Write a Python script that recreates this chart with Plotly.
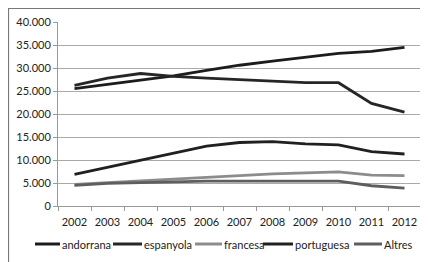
import plotly.graph_objects as go

years = ["2002", "2003", "2004", "2005", "2006", "2007", "2008", "2009", "2010", "2011", "2012"]
andorrana = [25500, 26400, 27300, 28300, 29500, 30600, 31500, 32400, 33200, 33600, 34500]
espanyola = [26200, 27800, 28800, 28200, 27800, 27500, 27200, 26800, 26800, 22300, 20400]
francesa = [4700, 5100, 5500, 5900, 6300, 6700, 7000, 7200, 7400, 6700, 6600]
portuguesa = [6900, 8400, 10000, 11500, 13000, 13800, 14000, 13500, 13300, 11800, 11300]
altres = [4500, 4900, 5100, 5300, 5400, 5400, 5400, 5400, 5400, 4400, 3900]

series = [
    ("andorrana", andorrana, "#1c1c1c"),
    ("espanyola", espanyola, "#262626"),
    ("francesa", francesa, "#8c8c8c"),
    ("portuguesa", portuguesa, "#202020"),
    ("Altres", altres, "#5e5e5e"),
]

# figure geometry (pixels inside the figure)
W, H = 420, 254
ML, MR, MT, MB = 50, 7, 14, 56
PW, PH = W - ML - MR, H - MT - MB


def px(fx):
    return (fx - ML) / PW


def py(fy):
    return (H - MB - fy) / PH


fig = go.Figure()
for name, vals, col in series:
    fig.add_trace(go.Scatter(x=years, y=vals, name=name, mode="lines",
                             line=dict(color=col, width=2.8), showlegend=False))

# hand-made legend (compact, as in the reference)
leg_line_x = [(27, 52), (105, 134), (187, 214), (255, 285), (346, 374)]
leg_y = 236
shapes = [dict(type="rect", xref="paper", yref="paper",
               x0=px(0.5), x1=px(W + 20), y0=py(H + 20), y1=py(0.5),
               line=dict(color="#777", width=1.2), fillcolor="rgba(0,0,0,0)")]
annotations = []
for (name, vals, col), (a, b) in zip(series, leg_line_x):
    shapes.append(dict(type="line", xref="paper", yref="paper",
                       x0=px(a), x1=px(b), y0=py(leg_y), y1=py(leg_y),
                       line=dict(color=col, width=3)))
    annotations.append(dict(text=name, xref="paper", yref="paper",
                            x=px(b + 1), y=py(leg_y), xanchor="left", yanchor="middle",
                            showarrow=False, borderpad=0,
                            font=dict(size=11, color="#222")))

fig.update_layout(
    width=W, height=H,
    margin=dict(l=ML, r=MR, t=MT, b=MB, autoexpand=False),
    paper_bgcolor="white", plot_bgcolor="white",
    separators=",.",
    font=dict(family="Lato, 'Liberation Sans', sans-serif", size=11, color="#222"),
    showlegend=False,
    shapes=shapes,
    annotations=annotations,
)
fig.update_xaxes(type="category", range=[-0.5, 10.5], showgrid=False,
                 showline=True, linecolor="#999", linewidth=1, tickangle=0,
                 ticks="outside", tickson="boundaries", ticklen=4, tickcolor="#999",
                 ticklabelstandoff=6, tickfont=dict(size=11))
fig.update_yaxes(range=[0, 40000], dtick=5000, tickformat=",d",
                 showgrid=True, gridcolor="#aaa", gridwidth=1,
                 showline=True, linecolor="#999", linewidth=1,
                 ticks="outside", ticklen=4, tickcolor="#999",
                 zeroline=False, tickfont=dict(size=11))

fig.write_html("out.html")
